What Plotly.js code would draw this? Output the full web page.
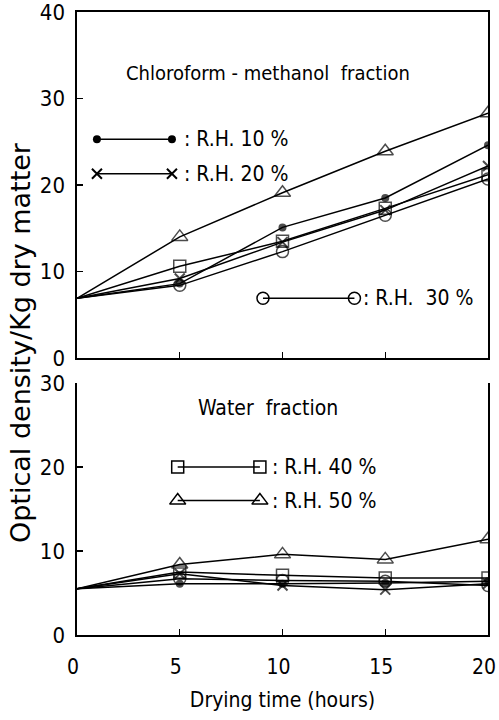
<!DOCTYPE html>
<html>
<head>
<meta charset="utf-8">
<script src="https://cdn.plot.ly/plotly-3.0.1.min.js"></script>
<style>html,body{margin:0;padding:0;background:#fff;}</style>
</head>
<body>
<div id="chart" style="width:499px;height:720px;"></div>
<script>
// ---- data ----
const dryingTime = [0, 5, 10, 15, 20];
const seriesNames = [": R.H. 10 %", ": R.H. 20 %", ": R.H.  30 %", ": R.H. 40 %", ": R.H. 50 %"];
// Chloroform-methanol fraction
const cmRH10 = [6.9, 8.6, 15.1, 18.5, 24.6];
const cmRH20 = [6.9, 9.2, 13.4, 17.1, 22.2];
const cmRH30 = [6.9, 8.4, 12.3, 16.5, 20.7];
const cmRH40 = [6.9, 10.6, 13.5, 17.3, 21.2];
const cmRH50 = [6.9, 14.0, 19.1, 23.9, 28.3];
// Water fraction
const wRH10 = [5.5, 6.1, 6.1, 6.2, 6.4];
const wRH20 = [5.5, 7.3, 5.9, 5.4, 6.1];
const wRH30 = [5.5, 6.7, 6.5, 6.4, 5.9];
const wRH40 = [5.5, 7.5, 7.1, 6.8, 6.8];
const wRH50 = [5.5, 8.4, 9.6, 9.0, 11.4];
const xTicks = [0, 5, 10, 15, 20];
const yTicksTop = [0, 10, 20, 30, 40];
const yTicksBottom = [0, 10, 20, 30];

// ---- styles ----
const FONT = "'DejaVu Sans Condensed', 'Liberation Sans Narrow', 'DejaVu Sans', sans-serif";
const markerBase = [
  {symbol: 'circle', size: 8, color: '#000', line: {width: 0}},
  {symbol: 'x-thin', size: 10, color: '#000', line: {width: 2, color: '#000'}},
  {symbol: 'circle-open', size: 12, color: '#000', line: {width: 1.5, color: '#000'}},
  {symbol: 'square-open', size: 12, color: '#000', line: {width: 1.5, color: '#000'}},
  {symbol: 'triangle-up-open', size: 14, color: '#000', line: {width: 1.5, color: '#000'}}
];
const lineStyle = {color: '#000', width: 1.5};
// no marker at the common starting point (t = 0)
function dataMarker(i) {
  const m = Object.assign({}, markerBase[i]);
  m.size = dryingTime.map(t => t === 0 ? 0 : markerBase[i].size);
  return m;
}

const topSeries = [cmRH10, cmRH20, cmRH30, cmRH40, cmRH50];
const botSeries = [wRH10, wRH20, wRH30, wRH40, wRH50];

const traces = [];
topSeries.forEach((ys, i) => traces.push({
  x: dryingTime, y: ys, xaxis: 'x2', yaxis: 'y2', mode: 'lines+markers',
  name: seriesNames[i], line: lineStyle, marker: dataMarker(i), showlegend: false
}));
botSeries.forEach((ys, i) => traces.push({
  x: dryingTime, y: ys, xaxis: 'x', yaxis: 'y', mode: 'lines+markers',
  name: seriesNames[i], line: lineStyle, marker: dataMarker(i), showlegend: false
}));

// ---- legend keys (placement in axis units) ----
const keyRows = [
  {s: 0, ax: 'x2', ay: 'y2', x0: 0.97, x1: 4.62, y: 25.3, tx: 5.1},
  {s: 1, ax: 'x2', ay: 'y2', x0: 0.97, x1: 4.62, y: 21.3, tx: 5.1},
  {s: 2, ax: 'x2', ay: 'y2', x0: 9.05, x1: 13.5, y: 6.9, tx: 13.8},
  {s: 3, ax: 'x', ay: 'y', x0: 4.9, x1: 8.9, y: 20.0, tx: 9.4},
  {s: 4, ax: 'x', ay: 'y', x0: 4.9, x1: 8.9, y: 16.0, tx: 9.4}
];
const annotations = [];
const textFont = {family: FONT, size: 21, color: '#000'};
keyRows.forEach(k => {
  traces.push({x: [k.x0, k.x1], y: [k.y, k.y], xaxis: k.ax, yaxis: k.ay,
    mode: 'lines+markers', line: lineStyle, marker: markerBase[k.s], showlegend: false,
    cliponaxis: false, hoverinfo: 'skip'});
  annotations.push({text: seriesNames[k.s], x: k.tx, y: k.y, xref: k.ax, yref: k.ay,
    xanchor: 'left', yanchor: 'middle', showarrow: false, font: textFont});
});
annotations.push({text: 'Chloroform - methanol  fraction', x: 9.3, y: 32.9, xref: 'x2', yref: 'y2',
  showarrow: false, font: {family: FONT, size: 20, color: '#000'}});
annotations.push({text: 'Water  fraction', x: 9.3, y: 27.0, xref: 'x', yref: 'y',
  showarrow: false, font: textFont});
annotations.push({text: 'Optical density/Kg dry matter', x: -0.139, y: 0.47, xref: 'paper', yref: 'paper',
  xanchor: 'center', yanchor: 'middle', textangle: -90, showarrow: false,
  font: {family: "'DejaVu Sans', sans-serif", size: 27, color: '#000'}});

const axisCommon = {
  showgrid: false, zeroline: false, showline: true, linecolor: '#000', linewidth: 1.6,
  ticks: 'inside', ticklen: 6, tickwidth: 1.4, tickcolor: '#000',
  ticklabeloverflow: 'allow',
  tickfont: {family: FONT, size: 22, color: '#000'}
};

const layout = {
  width: 499, height: 720,
  margin: {l: 77, r: 11, t: 12, b: 85},
  paper_bgcolor: '#fff', plot_bgcolor: '#fff',
  showlegend: false,
  xaxis: Object.assign({}, axisCommon, {domain: [0, 1], anchor: 'y', range: [0, 20],
    tickvals: xTicks, ticktext: xTicks.map(String), ticklabelstandoff: 12, ticklabelshift: -4,
    tickfont: {family: FONT, size: 21, color: '#000'},
    title: {text: 'Drying time (hours)', font: {family: FONT, size: 21, color: '#000'}, standoff: 14}}),
  yaxis: Object.assign({}, axisCommon, {domain: [0, 0.4045], anchor: 'x', range: [0, 30],
    tickvals: yTicksBottom, ticktext: yTicksBottom.map(String), mirror: true, ticklabelstandoff: 6}),
  xaxis2: Object.assign({}, axisCommon, {domain: [0, 1], anchor: 'y2', range: [0, 20],
    tickvals: xTicks, showticklabels: false, mirror: true, matches: 'x'}),
  yaxis2: Object.assign({}, axisCommon, {domain: [0.4446, 1], anchor: 'x2', range: [0, 40],
    tickvals: yTicksTop, ticktext: yTicksTop.map(String), mirror: true, ticklabelstandoff: 6}),
  annotations: annotations
};

Plotly.newPlot('chart', traces, layout, {staticPlot: true, displayModeBar: false});
</script>
</body>
</html>
